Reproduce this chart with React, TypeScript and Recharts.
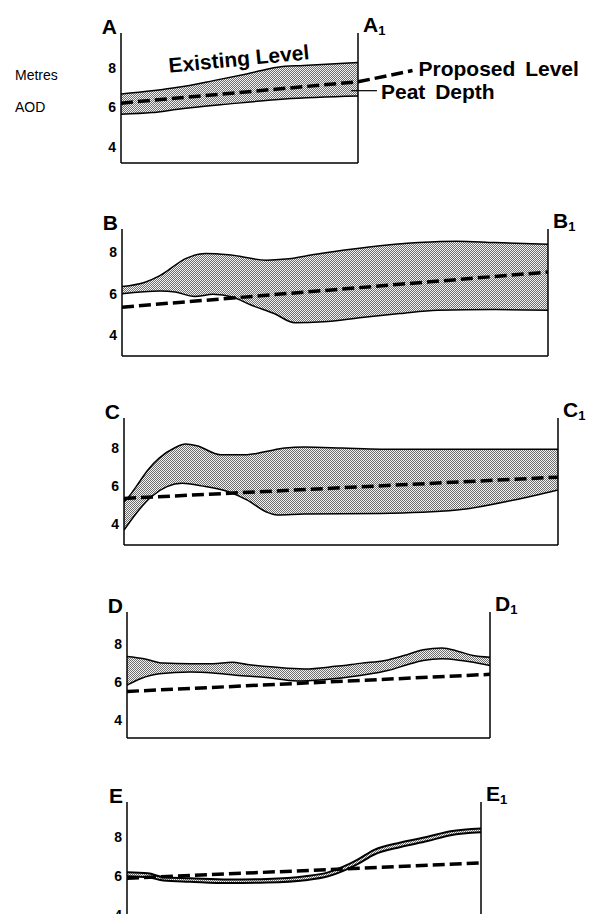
import React from 'react';
import { ComposedChart, Area, Line, XAxis, YAxis, ReferenceLine, ReferenceDot } from 'recharts';

const FONT = '"Liberation Sans", Arial, Helvetica, sans-serif';
const yTicks = [4, 6, 8];

// distance along each section in % of its length; levels in metres AOD
const aTopX = [0, 24, 39, 53, 66, 77, 100];
const aTop = [6.68, 7.02, 7.36, 7.7, 8.04, 8.13, 8.28];
const aBaseX = [0, 13, 24, 45, 69, 100];
const aBase = [5.66, 5.74, 5.91, 6.17, 6.43, 6.58];
const aProposed = [6.22, 7.3];

const bTopX = [0, 5.4, 8.9, 15.2, 19.6, 25, 33.9, 38.4, 45.5, 58, 69.6, 78.6, 87.5, 100];
const bTop = [6.35, 6.56, 6.88, 7.73, 7.95, 7.89, 7.63, 7.68, 7.92, 8.27, 8.48, 8.55, 8.48, 8.4];
const bBaseX = [0, 8.9, 12.5, 17, 21.4, 25.9, 30.4, 35.7, 40.6, 47.3, 56.3, 65.2, 74.1, 87.5, 100];
const bBase = [6.0, 6.13, 6.08, 5.87, 5.97, 5.84, 5.44, 5.04, 4.59, 4.64, 4.85, 5.04, 5.2, 5.23, 5.2];
const bProposed = [5.35, 7.05];

const cTopX = [0, 1.1, 2.8, 5.5, 8.1, 11.6, 14.2, 16.8, 22.2, 28.3, 32.7, 37.1, 41.5, 50.3, 59.1, 76.7, 100];
const cTop = [5.18, 5.44, 5.97, 6.85, 7.47, 8.0, 8.21, 8.12, 7.65, 7.65, 7.82, 8.0, 8.05, 8.0, 7.94, 7.94, 7.94];
const cBaseX = [0, 2.8, 6.3, 9.9, 13.4, 17.8, 23.9, 28.3, 32.7, 35.3, 41.5, 59.1, 76.7, 89.9, 100];
const cBase = [3.68, 4.56, 5.44, 5.97, 6.15, 6.01, 5.71, 5.27, 4.65, 4.48, 4.53, 4.56, 4.74, 5.27, 5.8];
const cProposed = [5.35, 6.47];

const dTopX = [0, 4.7, 10, 17.4, 23.7, 28.9, 33.2, 40.5, 48.9, 57.4, 64.7, 71.1, 76.3, 81.6, 86.8, 91.1, 95.3, 100];
const dTop = [7.34, 7.22, 6.99, 6.96, 6.96, 7.04, 6.92, 6.78, 6.68, 6.82, 6.99, 7.13, 7.39, 7.69, 7.79, 7.62, 7.39, 7.3];
const dBaseX = [0, 3.7, 8.9, 17.4, 23.7, 30, 38.4, 46.8, 54.2, 64.7, 72.1, 77.4, 81.6, 86.8, 92.1, 100];
const dBase = [5.83, 6.17, 6.43, 6.52, 6.47, 6.35, 6.23, 6.05, 6.12, 6.35, 6.61, 6.92, 7.13, 7.22, 7.13, 6.87];
const dProposed = [5.5, 6.4];

const eTopX = [0, 5.9, 10.3, 17.8, 28.6, 39.5, 50.3, 56.8, 61.1, 65.4, 69.7, 77.3, 84.9, 91.4, 100];
const eTop = [6.2, 6.15, 5.95, 5.9, 5.83, 5.86, 6.0, 6.2, 6.49, 6.88, 7.34, 7.73, 8.02, 8.3, 8.45];
const eBase = [6.0, 5.95, 5.78, 5.72, 5.65, 5.68, 5.8, 6.0, 6.28, 6.65, 7.1, 7.5, 7.8, 8.1, 8.25];
const eProposed = [5.9, 6.68];

const pts = (xs: number[], vs: number[]) => xs.map((x, i) => ({ x, v: vs[i] }));
const ends = (vs: number[]) => [{ x: 0, v: vs[0] }, { x: 100, v: vs[1] }];

const leftTag = (name: string) => (p: any) => {
  const vb = p.viewBox || {};
  return (
    <text x={vb.x - 4} y={vb.y + 1} textAnchor="end" fontSize={21} fontWeight={700} fontFamily={FONT} fill="#000">
      {name}
    </text>
  );
};

const rightTag = (name: string) => (p: any) => {
  const vb = p.viewBox || {};
  return (
    <text x={vb.x + 5} y={vb.y - 1} fontSize={21} fontWeight={700} fontFamily={FONT} fill="#000">
      {name}
      <tspan fontSize={13} dy={3}>1</tspan>
    </text>
  );
};

const endText = (txt: string, dx: number, dy: number) => (p: any) => {
  const vb = p.viewBox || {};
  return (
    <text x={vb.x + vb.width + dx} y={vb.y + dy} fontSize={21} fontWeight={700} fontFamily={FONT} fill="#000" wordSpacing={4}>
      {txt}
    </text>
  );
};

const tiltText = (txt: string) => (p: any) => {
  const vb = p.viewBox || {};
  const cx = vb.x + vb.width / 2;
  const cy = vb.y + vb.height / 2;
  return (
    <text x={cx} y={cy} textAnchor="middle" fontSize={21} fontWeight={700} fontFamily={FONT} fill="#000"
      transform={`rotate(-5.5 ${cx} ${cy})`}>
      {txt}
    </text>
  );
};

interface PanelProps {
  id: string;
  left: number;
  right: number;
  top: number;
  bottom: number;
  domain: [number, number];
  topLine: { x: number; v: number }[];
  baseLine: { x: number; v: number }[];
  proposed: { x: number; v: number }[];
  lineWidth?: number;
  children?: React.ReactNode;
}

function Panel({ id, left, right, top, bottom, domain, topLine, baseLine, proposed, lineWidth = 1.5, children }: PanelProps) {
  const MT = 40;
  const MB = 4;
  const YW = 30;
  return (
    <div style={{ position: 'absolute', left: 0, top: top - MT }}>
      <ComposedChart
        width={595}
        height={MT + (bottom - top) + 1 + MB}
        margin={{ top: MT, right: 595 - right, bottom: MB, left: left - YW }}
      >
        <defs>
          <pattern id={`stip-${id}`} width="2" height="2" patternUnits="userSpaceOnUse">
            <rect width="2" height="2" fill="#f2f2f2" />
            <rect width="1" height="1" fill="#6e6e6e" />
            <rect x="1" y="1" width="1" height="1" fill="#6e6e6e" />
          </pattern>
        </defs>
        <Area data={topLine} dataKey="v" type="monotone" stroke="#000" strokeWidth={lineWidth}
          fill={`url(#stip-${id})`} fillOpacity={1} baseValue={domain[0]} dot={false} activeDot={false}
          isAnimationActive={false} />
        <Area data={baseLine} dataKey="v" type="monotone" stroke="#000" strokeWidth={lineWidth}
          fill="#fff" fillOpacity={1} baseValue={domain[0]} dot={false} activeDot={false}
          isAnimationActive={false} />
        <Line data={proposed} dataKey="v" type="linear" stroke="#000" strokeWidth={3.5}
          strokeDasharray="12 5" dot={false} activeDot={false} isAnimationActive={false} />
        <XAxis type="number" dataKey="x" domain={[0, 100]} allowDataOverflow tick={false} tickLine={false}
          height={1} axisLine={{ stroke: '#000', strokeWidth: 1.5 }} />
        <YAxis type="number" domain={domain} allowDataOverflow ticks={yTicks} interval={0} width={YW}
          tickLine={false} tickSize={0} tickMargin={5} axisLine={{ stroke: '#000', strokeWidth: 1.5 }}
          tick={{ fontSize: 14, fontWeight: 700, fill: '#000', fontFamily: FONT }} />
        <ReferenceLine x={0} stroke="none" label={leftTag(id)} />
        <ReferenceLine x={100} stroke="#000" strokeWidth={1.5} label={rightTag(id)} />
        {children}
      </ComposedChart>
    </div>
  );
}

export default function App() {
  return (
    <div style={{ position: 'relative', width: 595, height: 922, margin: -8, overflow: 'hidden', background: '#fff' }}>
      <div style={{ position: 'absolute', left: 15, top: 66, fontFamily: FONT, fontSize: 14, lineHeight: '18px' }}>Metres</div>
      <div style={{ position: 'absolute', left: 15, top: 98, fontFamily: FONT, fontSize: 14, lineHeight: '18px' }}>AOD</div>

      <Panel id="A" left={121} right={358} top={33} bottom={163} domain={[3.19, 9.77]}
        topLine={pts(aTopX, aTop)} baseLine={pts(aBaseX, aBase)} proposed={ends(aProposed)}>
        <ReferenceDot x={50} y={8.1} r={1} fill="none" stroke="none" label={tiltText('Existing Level')} />
        <ReferenceLine segment={[{ x: 100, y: aProposed[1] }, { x: 123, y: 7.87 }]} ifOverflow="visible"
          stroke="#000" strokeWidth={3.5} strokeDasharray="12 5" label={endText('Proposed Level', 6, 5)} />
        <ReferenceLine segment={[{ x: 97, y: 6.85 }, { x: 108, y: 6.85 }]} ifOverflow="visible"
          stroke="#000" strokeWidth={1.2} label={endText('Peat Depth', 4, 8)} />
      </Panel>

      <Panel id="B" left={122} right={548} top={229} bottom={356} domain={[2.98, 9.14]}
        topLine={pts(bTopX, bTop)} baseLine={pts(bBaseX, bBase)} proposed={ends(bProposed)} />

      <Panel id="C" left={124} right={558} top={418} bottom={545} domain={[2.9, 9.58]}
        topLine={pts(cTopX, cTop)} baseLine={pts(cBaseX, cBase)} proposed={ends(cProposed)} />

      <Panel id="D" left={127} right={490} top={612} bottom={738} domain={[3.05, 9.68]}
        topLine={pts(dTopX, dTop)} baseLine={pts(dBaseX, dBase)} proposed={ends(dProposed)} />

      <Panel id="E" left={127} right={481} top={802} bottom={931} domain={[3.2, 9.8]}
        topLine={pts(eTopX, eTop)} baseLine={pts(eTopX, eBase)} proposed={ends(eProposed)} lineWidth={2} />
    </div>
  );
}
